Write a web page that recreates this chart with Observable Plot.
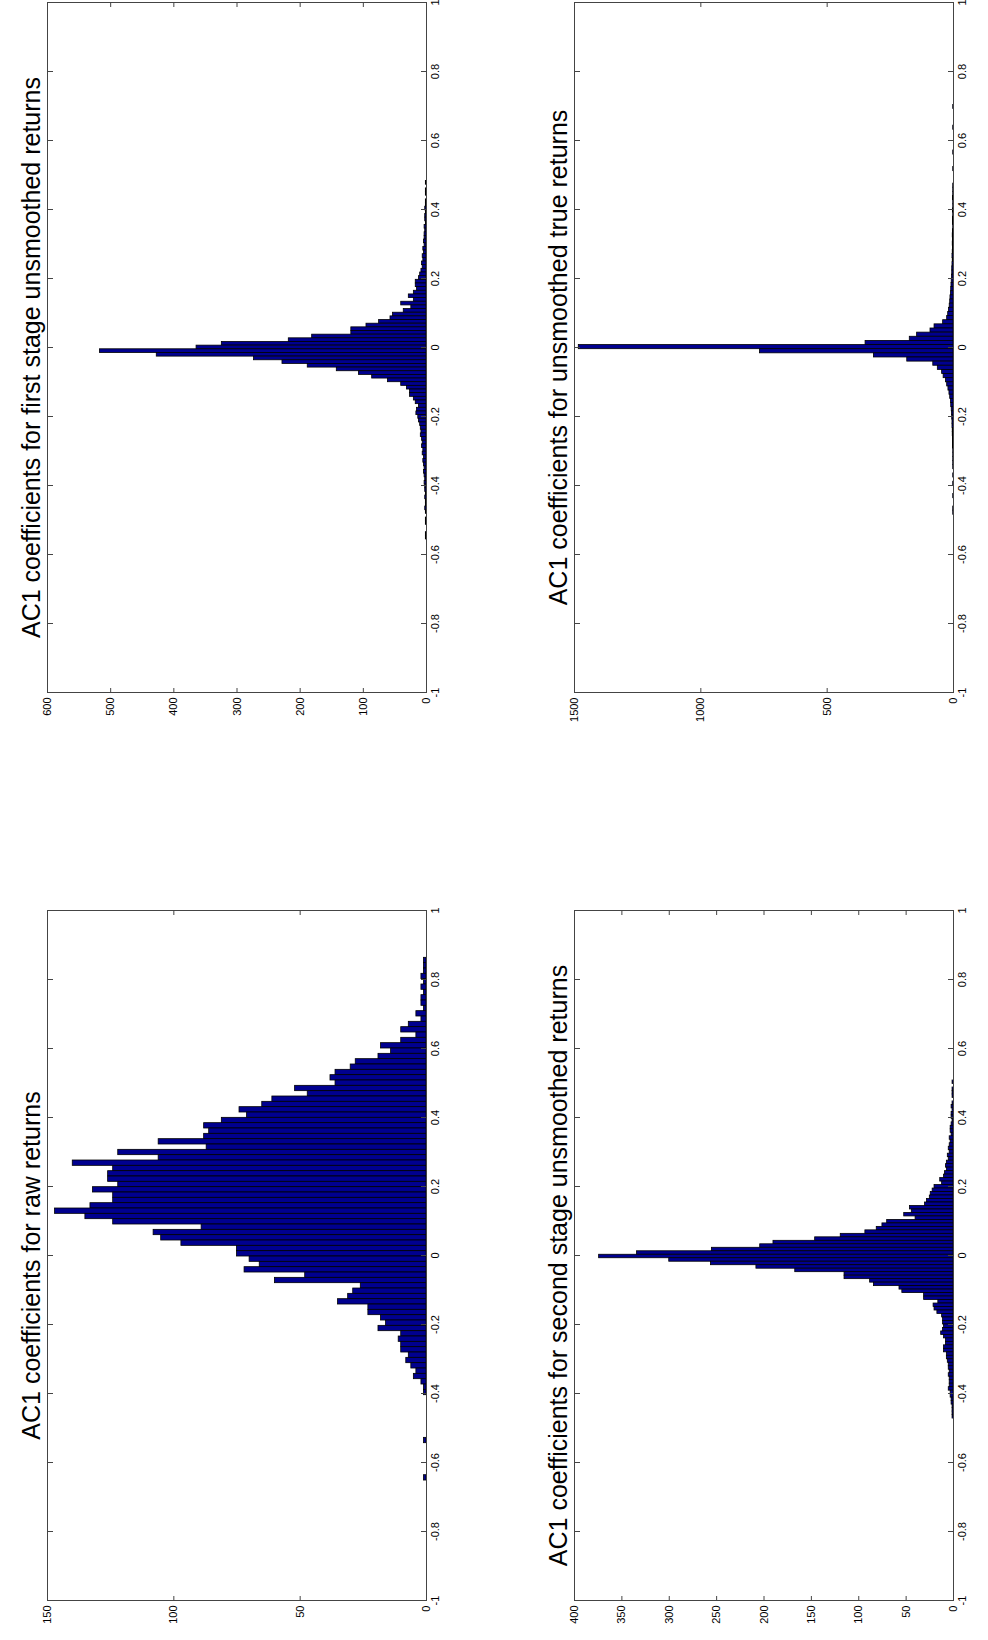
<!DOCTYPE html>
<html>
<head>
<meta charset="utf-8">
<script src="https://cdn.jsdelivr.net/npm/d3@7"></script>
<script src="https://cdn.jsdelivr.net/npm/@observablehq/plot@0.6"></script>
<style>
  body { margin: 0; background: white; width: 988px; height: 1640px; position: relative; overflow: hidden; }
  .panel { position: absolute; transform-origin: 0 0; transform: rotate(-90deg); }
</style>
</head>
<body>
<script>
// histogram counts, listed from the highest AC1 bin down to the lowest
const rawTop = 0.858, rawWidth = 0.01546;
const rawCounts = [1,1,1,2,1,2,1,2,2, 1,4,2,7,10,4,10,18,14,19,28,30,36,38,36,52,47,61,65,74,71,81,88,86,88,106,87,122,106,140,124,126,126,122,132,124,124,133,147,135,124,89,108,105,97,75,75,70,66,72,48,60,26,29,31,35,23,23,18,16,19,10,11,10,10,7,8,6,4,5,2,1,1,0,0,0,0,0,0,0,0,1,0,0,0,0,0,0,1];

const firstTop = 0.48, firstWidth = 0.0106;
const firstCounts = [1,0,1,1,0,1,1,2,1,2,2,1,3,2,3,3,4,3,5,4,6,5,7,6,8,10,
  12,17,17,15,20,28,20,40,24,36,53,57,75,95,119,119,181,218,324,364,517,427,273,228,188,142,107,86,61,40,31,26,26,20,17,12,15,16,13,12,
  10,9,8,9,7,6,7,5,6,4,5,4,3,4,3,2,3,2,2,1,2,1,1,2,1,0,1,1,0,0,1,1];

const trueTop = 0.70, trueWidth = 0.012;
const trueCounts = [1,0,0,0,0,1,0,0,0,0,0,1,0,0,0,1,0,0,0,1,
  1,1,2,1,1,2,1,2,2,1,2,3,2,3,2,3,4,3,4,5,5,
  6,7,8,9,10,12,13,15,18,21,
  25,41,75,91,144,173,348,1483,766,315,183,80,62,45,39,
  30,25,20,16,13,10,9,7,6,5,4,4,3,3,2,2,2,1,1,1,1,1,0,1,0,1,0,0,1,0,0,1,1,0];

const secondTop = 0.505, secondWidth = 0.0101;
const secondCounts = [1,0,1,1,1,0,1,2,1,2,2,1,2,3,3,2,4,3,4,5,4,6,5,7,8,7,9,10,
  14,12,20,22,24,25,28,30,46,44,52,40,70,75,81,93,119,146,190,204,255,334,374,300,256,208,167,115,115,88,84,57,54,31,31,16,21,20,17,12,11,11,10,11,13,10,8,8,10,10,7,7,6,5,5,4,5,4,4,4,5,
  3,3,2,2,1,1,1,1];

const xTicks = [-1,-0.8,-0.6,-0.4,-0.2,0,0.2,0.4,0.6,0.8,1];

const panels = [
  {title: "AC1 coefficients for first stage unsmoothed returns", top: firstTop, w: firstWidth, counts: firstCounts, ymax: 600, yTicks: [0,100,200,300,400,500,600], left: 7, pageTop: 733},
  {title: "AC1 coefficients for raw returns", top: rawTop, w: rawWidth, counts: rawCounts, ymax: 150, yTicks: [0,50,100,150], left: 7, pageTop: 1641},
  {title: "AC1 coefficients for unsmoothed true returns", top: trueTop, w: trueWidth, counts: trueCounts, ymax: 1500, yTicks: [0,500,1000,1500], left: 534, pageTop: 733},
  {title: "AC1 coefficients for second stage unsmoothed returns", top: secondTop, w: secondWidth, counts: secondCounts, ymax: 400, yTicks: [0,50,100,150,200,250,300,350,400], left: 534, pageTop: 1641}
];

const ml = 40, mr = 20, mt = 40, mb = 40;
const W = ml + 690 + mr, H = mt + 379 + mb;

for (const p of panels) {
  const bins = p.counts.map((c, i) => ({
    x1: p.top - i * p.w - p.w / 2,
    x2: p.top - i * p.w + p.w / 2,
    count: c
  })).filter(d => d.count > 0);

  const plot = Plot.plot({
    width: W, height: H,
    marginLeft: ml, marginRight: mr, marginTop: mt, marginBottom: mb,
    style: {fontFamily: "Liberation Sans, Arial, sans-serif", fontSize: "11px", color: "black"},
    x: {domain: [-1, 1]},
    y: {domain: [0, p.ymax]},
    marks: [
      Plot.rect(bins, {x1: "x1", x2: "x2", y1: 0, y2: "count", fill: "#00008f", stroke: "black", strokeWidth: 0.8}),
      Plot.frame({stroke: "#444"}),
      Plot.axisX({ticks: xTicks, tickSize: 0, tickPadding: 5, tickFormat: d => String(d), label: null}),
      Plot.axisX({ticks: xTicks, tickSize: -5, tickFormat: () => "", label: null, stroke: "#444"}),
      Plot.axisX({anchor: "top", ticks: xTicks, tickSize: -5, tickFormat: () => "", label: null, stroke: "#444"}),
      Plot.axisY({ticks: p.yTicks, tickSize: 0, tickPadding: 5, tickFormat: d => String(d), label: null}),
      Plot.axisY({ticks: p.yTicks, tickSize: -5, tickFormat: () => "", label: null, stroke: "#444"}),
      Plot.axisY({anchor: "right", ticks: p.yTicks, tickSize: -5, tickFormat: () => "", label: null, stroke: "#444"}),
      Plot.text([p.title], {frameAnchor: "top", dx: -10, dy: -25, fontSize: 25, fill: "black"})
    ]
  });

  const div = document.createElement("div");
  div.className = "panel";
  div.style.width = W + "px";
  div.style.height = H + "px";
  div.style.left = p.left + "px";
  div.style.top = p.pageTop + "px";
  div.append(plot);
  document.body.append(div);
}
</script>
</body>
</html>
